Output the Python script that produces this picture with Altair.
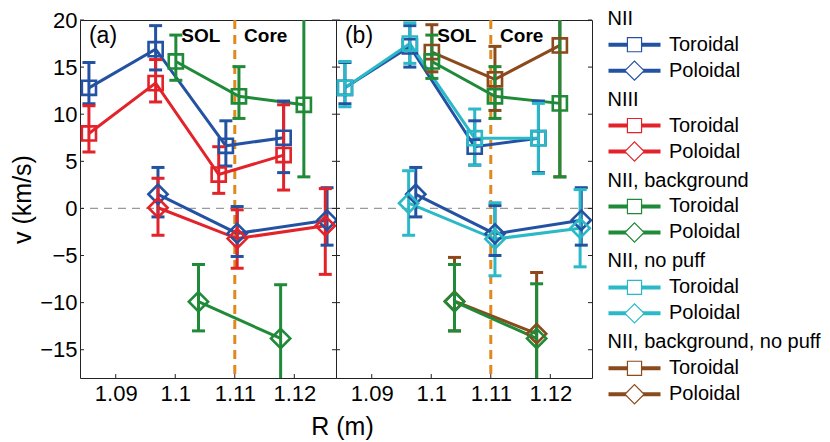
import altair as alt
import pandas as pd

FONT = "Liberation Sans"

SERIES = ["NII", "NIII", "NII, background", "NII, no puff", "NII, background, no puff"]
COLORS = ["#2352a3", "#e3232a", "#1f8a38", "#2bb9c7", "#8b4a1c"]
COMPONENTS = ["Toroidal", "Poloidal"]

X_TICKS = [1.09, 1.10, 1.11, 1.12]
Y_TICKS = [-15, -10, -5, 0, 5, 10, 15, 20]
X_DOMAIN = [1.084, 1.127]
Y_DOMAIN = [-18, 20]
SEPARATRIX_R = 1.11

PANEL_TAGS = ["(a)", "(b)"]
TAG_R = 1.0855
REGION_TEXT = ["SOL", "Core"]
REGION_R = [1.1043, 1.1152]
LABEL_V = 18.3

# ---------- panel (a) ----------
A_NII_TOR_R = [1.0855, 1.0967, 1.1085, 1.1182]
A_NII_TOR_V = [12.8, 16.9, 6.65, 7.5]
A_NII_TOR_LO = [11.1, 14.7, 4.5, 3.8]
A_NII_TOR_HI = [15.5, 19.4, 9.3, 11.4]

A_NIII_TOR_R = [1.0855, 1.0967, 1.1073, 1.1182]
A_NIII_TOR_V = [7.96, 13.3, 3.6, 5.66]
A_NIII_TOR_LO = [6.0, 11.3, 1.6, 1.95]
A_NIII_TOR_HI = [10.9, 15.8, 6.55, 11.0]

A_BG_TOR_R = [1.1001, 1.1107, 1.1216]
A_BG_TOR_V = [15.6, 11.9, 11.0]
A_BG_TOR_LO = [13.6, 9.55, 3.35]
A_BG_TOR_HI = [18.4, 15.05, 22.0]

A_NII_POL_R = [1.0971, 1.1104, 1.1255]
A_NII_POL_V = [1.5, -2.65, -1.25]
A_NII_POL_LO = [-0.9, -5.1, -3.9]
A_NII_POL_HI = [4.35, 0.2, 2.2]

A_NIII_POL_R = [1.0971, 1.1104, 1.1252]
A_NIII_POL_V = [0.07, -3.2, -1.85]
A_NIII_POL_LO = [-2.85, -6.35, -7.0]
A_NIII_POL_HI = [3.2, -0.15, 2.1]

A_BG_POL_R = [1.1039, 1.1177]
A_BG_POL_V = [-9.9, -13.8]
A_BG_POL_LO = [-13.0, -19.5]
A_BG_POL_HI = [-5.95, -8.1]

# ---------- panel (b) ----------
B_NII_TOR_R = [1.0855, 1.0964, 1.1073, 1.1180]
B_NII_TOR_V = [12.8, 17.2, 6.55, 7.45]
B_NII_TOR_LO = [11.1, 15.0, 4.6, 3.8]
B_NII_TOR_HI = [15.5, 19.4, 9.3, 11.4]

B_NOPUFF_TOR_R = [1.0855, 1.0964, 1.1073, 1.1180]
B_NOPUFF_TOR_V = [12.8, 17.5, 7.45, 7.45]
B_NOPUFF_TOR_LO = [10.8, 15.4, 4.6, 3.7]
B_NOPUFF_TOR_HI = [15.6, 19.7, 10.55, 11.15]

B_BG_TOR_R = [1.1001, 1.1107, 1.1216]
B_BG_TOR_V = [15.6, 11.9, 11.15]
B_BG_TOR_LO = [13.8, 9.55, 3.35]
B_BG_TOR_HI = [18.4, 15.05, 22.0]

B_BGNP_TOR_R = [1.1001, 1.1107, 1.1216]
B_BGNP_TOR_V = [16.6, 13.7, 17.3]
B_BGNP_TOR_LO = [14.5, 10.4, 3.35]
B_BGNP_TOR_HI = [19.5, 17.2, 22.0]

B_NII_POL_R = [1.0974, 1.1107, 1.1252]
B_NII_POL_V = [1.5, -2.7, -1.25]
B_NII_POL_LO = [-0.9, -5.0, -3.9]
B_NII_POL_HI = [4.35, 0.3, 2.2]

B_NOPUFF_POL_R = [1.0962, 1.1107, 1.1250]
B_NOPUFF_POL_V = [0.55, -3.25, -2.1]
B_NOPUFF_POL_LO = [-2.85, -7.15, -6.2]
B_NOPUFF_POL_HI = [4.0, 0.6, 2.0]

B_BG_POL_R = [1.1039, 1.1177]
B_BG_POL_V = [-9.9, -13.8]
B_BG_POL_LO = [-13.0, -19.5]
B_BG_POL_HI = [-5.95, -8.0]

B_BGNP_POL_R = [1.1039, 1.1177]
B_BGNP_POL_V = [-9.85, -13.3]
B_BGNP_POL_LO = [-13.0, -19.5]
B_BGNP_POL_HI = [-5.2, -6.8]


def rows(series, comp, R, V, LO, HI):
    return [dict(series=series, comp=comp, R=r, v=v, lo=lo, hi=hi)
            for r, v, lo, hi in zip(R, V, LO, HI)]


df_a = pd.DataFrame(
    rows("NII", "Toroidal", A_NII_TOR_R, A_NII_TOR_V, A_NII_TOR_LO, A_NII_TOR_HI)
    + rows("NII", "Poloidal", A_NII_POL_R, A_NII_POL_V, A_NII_POL_LO, A_NII_POL_HI)
    + rows("NIII", "Toroidal", A_NIII_TOR_R, A_NIII_TOR_V, A_NIII_TOR_LO, A_NIII_TOR_HI)
    + rows("NIII", "Poloidal", A_NIII_POL_R, A_NIII_POL_V, A_NIII_POL_LO, A_NIII_POL_HI)
    + rows("NII, background", "Toroidal", A_BG_TOR_R, A_BG_TOR_V, A_BG_TOR_LO, A_BG_TOR_HI)
    + rows("NII, background", "Poloidal", A_BG_POL_R, A_BG_POL_V, A_BG_POL_LO, A_BG_POL_HI)
)
df_b = pd.DataFrame(
    rows("NII", "Toroidal", B_NII_TOR_R, B_NII_TOR_V, B_NII_TOR_LO, B_NII_TOR_HI)
    + rows("NII", "Poloidal", B_NII_POL_R, B_NII_POL_V, B_NII_POL_LO, B_NII_POL_HI)
    + rows("NII, no puff", "Toroidal", B_NOPUFF_TOR_R, B_NOPUFF_TOR_V, B_NOPUFF_TOR_LO, B_NOPUFF_TOR_HI)
    + rows("NII, no puff", "Poloidal", B_NOPUFF_POL_R, B_NOPUFF_POL_V, B_NOPUFF_POL_LO, B_NOPUFF_POL_HI)
    + rows("NII, background, no puff", "Toroidal", B_BGNP_TOR_R, B_BGNP_TOR_V, B_BGNP_TOR_LO, B_BGNP_TOR_HI)
    + rows("NII, background, no puff", "Poloidal", B_BGNP_POL_R, B_BGNP_POL_V, B_BGNP_POL_LO, B_BGNP_POL_HI)
    + rows("NII, background", "Toroidal", B_BG_TOR_R, B_BG_TOR_V, B_BG_TOR_LO, B_BG_TOR_HI)
    + rows("NII, background", "Poloidal", B_BG_POL_R, B_BG_POL_V, B_BG_POL_LO, B_BG_POL_HI)
)

W, H = 256, 358
TICK_LEN = 4

color_scale = alt.Scale(domain=SERIES, range=COLORS)
shape_scale = alt.Scale(domain=COMPONENTS, range=["square", "diamond"])
size_scale = alt.Scale(domain=COMPONENTS, range=[200, 370])
xs = alt.Scale(domain=X_DOMAIN, nice=False, zero=False)
ys = alt.Scale(domain=Y_DOMAIN, nice=False, zero=False, clamp=True)


def make_panel(df, tag, first):
    if first:
        xax = alt.Axis(values=X_TICKS, format="~g", labelPadding=5, title="R (m)",
                       titleX=262, titleY=48, titleAlign="center", titleBaseline="middle")
        yax = alt.Axis(values=Y_TICKS, format="d", labelPadding=3, title="v (km/s)",
                       titlePadding=4)
    else:
        xax = alt.Axis(values=X_TICKS, format="~g", labelPadding=5, title=None)
        yax = None

    def X(f):
        return alt.X(f, type="quantitative", scale=xs, axis=xax)

    def Y(f):
        return alt.Y(f, type="quantitative", scale=ys, axis=yax)

    color = alt.Color("series:N", scale=color_scale, legend=None)
    base = alt.Chart(df)

    zero = alt.Chart(pd.DataFrame({"v": [0]})).mark_rule(
        color="#9a9a9a", strokeWidth=1.3, strokeDash=[8, 6]).encode(y=Y("v"))
    sep = alt.Chart(pd.DataFrame({"R": [SEPARATRIX_R]})).mark_rule(
        color="#e0891d", strokeWidth=3, strokeDash=[9, 6]).encode(x=X("R"))

    lines = base.mark_line(strokeWidth=3, clip=True).encode(
        x=X("R"), y=Y("v"), color=color, detail="comp:N", order="R:Q")
    bars = base.mark_rule(strokeWidth=3, clip=True).encode(
        x=X("R"), y=Y("lo"), y2="hi:Q", color=color)
    cap_lo = base.transform_filter(alt.datum.lo >= Y_DOMAIN[0]).mark_tick(
        orient="horizontal", size=13, thickness=3, clip=True, opacity=1).encode(
        x=X("R"), y=Y("lo"), color=color)
    cap_hi = base.transform_filter(alt.datum.hi <= Y_DOMAIN[1]).mark_tick(
        orient="horizontal", size=13, thickness=3, clip=True, opacity=1).encode(
        x=X("R"), y=Y("hi"), color=color)
    pts = base.mark_point(filled=False, strokeWidth=2.6, opacity=1, clip=True).encode(
        x=X("R"), y=Y("v"), color=color,
        shape=alt.Shape("comp:N", scale=shape_scale, legend=None),
        size=alt.Size("comp:N", scale=size_scale, legend=None))

    tag_txt = alt.Chart(pd.DataFrame({"t": [tag], "R": [TAG_R], "v": [LABEL_V]})).mark_text(
        font=FONT, fontSize=23, align="left", baseline="middle", color="#000").encode(
        x=X("R"), y=Y("v"), text="t:N")
    reg_txt = alt.Chart(pd.DataFrame({"t": REGION_TEXT, "R": REGION_R, "v": [LABEL_V] * 2})).mark_text(
        font=FONT, fontSize=19, fontWeight="bold", align="center", baseline="middle", color="#000").encode(
        x=X("R"), y=Y("v"), text="t:N")

    yt = alt.Chart(pd.DataFrame({"v": Y_TICKS}))
    xt = alt.Chart(pd.DataFrame({"R": X_TICKS}))
    tick_l = yt.mark_rule(color="#222", strokeWidth=1).encode(
        y=Y("v"), x=alt.value(0), x2=alt.value(TICK_LEN))
    tick_r = yt.mark_rule(color="#222", strokeWidth=1).encode(
        y=Y("v"), x=alt.value(W - TICK_LEN), x2=alt.value(W))
    tick_b = xt.mark_rule(color="#222", strokeWidth=1).encode(
        x=X("R"), y=alt.value(H - TICK_LEN), y2=alt.value(H))

    return alt.layer(zero, tick_l, tick_r, tick_b, sep, lines, bars, cap_lo, cap_hi, pts,
                     tag_txt, reg_txt).properties(width=W, height=H)


panel_a = make_panel(df_a, PANEL_TAGS[0], True)
panel_b = make_panel(df_b, PANEL_TAGS[1], False)

# ---------- legend ----------
hdr, items = [], []
for i, s in enumerate(SERIES):
    top = 17 + i * 81
    hdr.append(dict(text=s, ly=top))
    items.append(dict(series=s, comp="Toroidal", ly=top + 26))
    items.append(dict(series=s, comp="Poloidal", ly=top + 52))
hdr_df = pd.DataFrame(hdr)
item_df = pd.DataFrame(items)

ly_scale = alt.Scale(domain=[18.3, 376.7], reverse=True, nice=False, zero=False)
LY = alt.Y("ly:Q", scale=ly_scale, axis=None)
lcolor = alt.Color("series:N", scale=color_scale, legend=None)

leg_hdr = alt.Chart(hdr_df).mark_text(font=FONT, fontSize=20, align="left", baseline="middle",
                                      color="#000").encode(x=alt.value(15.5), y=LY, text="text:N")
leg_line = alt.Chart(item_df).mark_rule(strokeWidth=4).encode(
    x=alt.value(16.5), x2=alt.value(68.5), y=LY, color=lcolor)
leg_pts = alt.Chart(item_df).mark_point(filled=True, fill="white", strokeWidth=1.2, opacity=1).encode(
    x=alt.value(42.5), y=LY, stroke=lcolor,
    shape=alt.Shape("comp:N", scale=alt.Scale(domain=COMPONENTS,
                    range=["square", "M-0.72,0L0,-1L0.72,0L0,1Z"]), legend=None),
    size=alt.Size("comp:N", scale=alt.Scale(domain=COMPONENTS, range=[170, 480]), legend=None))
leg_txt = alt.Chart(item_df).mark_text(font=FONT, fontSize=20, align="left", baseline="middle",
                                       color="#000").encode(x=alt.value(77), y=LY, text="comp:N")
legend = alt.layer(leg_hdr, leg_line, leg_pts, leg_txt).properties(
    width=226, height=H, view=alt.ViewBackground(stroke=None))

chart = alt.hconcat(panel_a, panel_b, legend, spacing=0, bounds="flush").properties(
    padding={"left": 2, "top": 0, "right": 0, "bottom": 0}
).configure_view(stroke="#222", strokeWidth=1).configure_axis(
    labelFont=FONT, labelFontSize=22, labelColor="#000",
    titleFont=FONT, titleFontSize=25, titleFontWeight="normal", titleColor="#000",
    grid=False, domain=False, ticks=False
)

chart.save("out.html", embed_options={"renderer": "svg", "actions": False})
